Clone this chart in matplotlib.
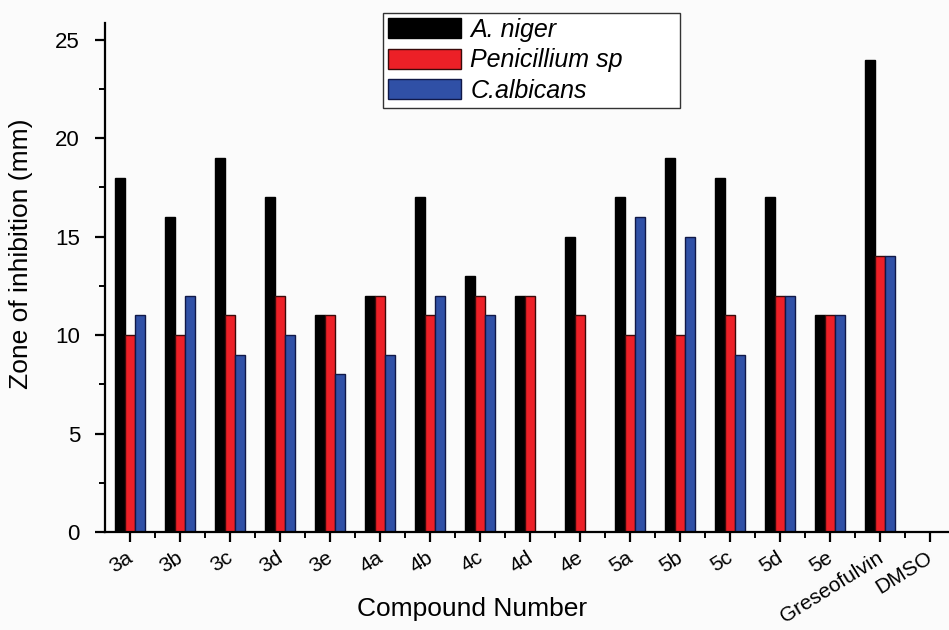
import numpy as np
import matplotlib
matplotlib.use('Agg')
import matplotlib.pyplot as plt

plt.rcParams['font.family'] = ['Liberation Sans', 'DejaVu Sans']

compounds = ['3a', '3b', '3c', '3d', '3e', '4a', '4b', '4c', '4d', '4e',
             '5a', '5b', '5c', '5d', '5e', 'Greseofulvin', 'DMSO']
a_niger = [18, 16, 19, 17, 11, 12, 17, 13, 12, 15, 17, 19, 18, 17, 11, 24, 0]
penicillium = [10, 10, 11, 12, 11, 12, 11, 12, 12, 11, 10, 10, 11, 12, 11, 14, 0]
c_albicans = [11, 12, 9, 10, 8, 9, 12, 11, 0, 0, 16, 15, 9, 12, 11, 14, 0]

fig = plt.figure(figsize=(9.49, 6.3), dpi=100)
fig.patch.set_facecolor('#fbfbfb')
ax = fig.add_axes([0.1106, 0.1556, 0.8894, 0.808])
ax.set_facecolor('#fbfbfb')

x = np.arange(len(compounds))
w = 0.2
ax.bar(x - w, a_niger, w, color='black', edgecolor='black', lw=1, label='A. niger')
ax.bar(x, penicillium, w, color='#ec2027', edgecolor='#3a0a0a', lw=1, label='Penicillium sp')
ax.bar(x + w, c_albicans, w, color='#3050a6', edgecolor='#101848', lw=1, label='C.albicans')

ax.set_xlim(-0.5, 16.38)
ax.set_ylim(0, 25.86)
ax.set_yticks([0, 5, 10, 15, 20, 25])
ax.set_yticks(np.arange(2.5, 25, 5), minor=True)
ax.set_xticks(x)
ax.set_xticks(x[:-1] + 0.5, minor=True)
ax.set_xticklabels(compounds, rotation=32, ha='right', va='center_baseline',
                   rotation_mode='anchor', fontsize=15)
ax.tick_params(axis='y', labelsize=16)

for s in ['top', 'right']:
    ax.spines[s].set_visible(False)
for s in ['left', 'bottom']:
    ax.spines[s].set_linewidth(1.6)

ax.tick_params(axis='both', which='major', direction='out', length=7, width=1.6)
ax.tick_params(axis='both', which='minor', direction='out', length=4, width=1.4)
ax.tick_params(axis='y', pad=11)
ax.tick_params(axis='x', pad=9)

ax.set_ylabel('Zone of inhibition (mm)', fontsize=19)
ax.yaxis.set_label_coords(-0.085, 0.546)
ax.set_xlabel('Compound Number', fontsize=19)
ax.xaxis.set_label_coords(0.435, -0.128)

leg = ax.legend(loc='upper left',
                bbox_to_anchor=(383 / 949, 1 - 103 / 630, 297 / 949, 90 / 630),
                bbox_transform=fig.transFigure, mode='expand', fancybox=False,
                framealpha=1, edgecolor='#333333',
                prop={'style': 'italic', 'size': 18},
                handlelength=2.9, handleheight=0.85, borderpad=0.2,
                labelspacing=0.25, handletextpad=0.4, borderaxespad=0)
leg.get_frame().set_linewidth(1.0)

fig.savefig('out.png', dpi=100, facecolor=fig.get_facecolor())
